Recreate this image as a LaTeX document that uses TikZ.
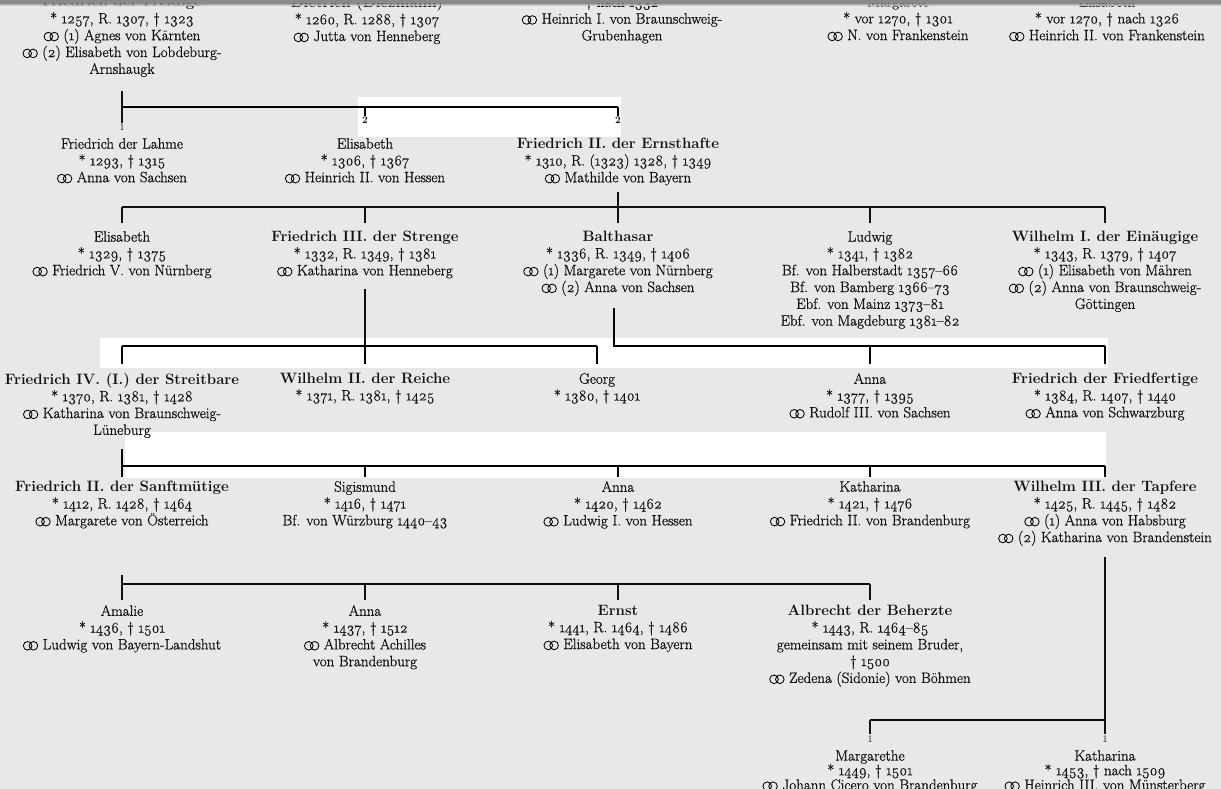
\documentclass[tikz,border=0pt]{standalone}
\usepackage{fontspec}
\setmainfont{Latin Modern Roman}[Numbers=OldStyle,UprightFeatures={FakeBold=0.9}]
\newfontfamily\numfont{Latin Modern Roman}[Numbers=Lining]
\newcommand\mar{\tikz[baseline=-3.6pt,x=1pt,y=1pt]{\draw[line width=0.85pt,draw=black] (0,0) circle (4.3) (5.8,0) circle (4.3);}}
\newcommand\fsz{\fontsize{15}{16.8}\selectfont}
\newcommand\fszb{\fontsize{15}{14.6}\selectfont}
\usetikzlibrary{calc}
\definecolor{ink}{HTML}{111111}
\definecolor{paper}{HTML}{E8E8E8}
\definecolor{band}{HTML}{8A8A8A}
\begin{document}
\begin{tikzpicture}[x=1pt,y=-1pt,
  person/.style={align=center,anchor=north,inner sep=0pt,font=\fsz,text=ink,execute at begin node=\strut},
  personb/.style={person,font=\fszb},
  num/.style={inner sep=0pt,anchor=north,font=\numfont\fontsize{10}{10}\selectfont,text=ink},
  numb/.style={num,font=\numfont\fontsize{10}{10}\selectfont\bfseries},
  link/.style={draw=ink,line width=1.1pt},
  boldlink/.style={draw=black,line width=1.6pt},
  patch/.style={fill=white,draw=none}]
\useasboundingbox (0,0) rectangle (1221,789);
\clip (0,0) rectangle (1221,789);
\fill[paper] (0,0) rectangle (1221,789);
% white scan patches
\fill[patch] (358,97) rectangle (621,137);
\fill[patch] (100,338) rectangle (1108,368);
\fill[patch] (125,432) rectangle (1106,478);
% level coordinates
\coordinate (h0) at (0,107);
\coordinate (h1) at (0,207);
\coordinate (h2) at (0,346);
\coordinate (h3) at (0,466);
\coordinate (h4) at (0,584);
\coordinate (h5) at (0,720);
% ---------- row 0
\node[person] (freidige) at (122,-4) {\textbf{Friedrich der Freidige}\\{}* 1257, R. 1307, † 1323\\\mar{} (1) Agnes von Kärnten\\\mar{} (2) Elisabeth von Lobdeburg-\\Arnshaugk};
\node[person] (dietrich) at (367,-4) {\textbf{Dietrich (Diezmann)}\\{}* 1260, R. 1288, † 1307\\\mar{} Jutta von Henneberg};
\node[person] (agnes) at (622,-4) {† nach 1332\\\mar{} Heinrich I. von Braunschweig-\\Grubenhagen};
\node[person] (frank1) at (898,-4) {Margarete\\{}* vor 1270, † 1301\\\mar{} N. von Frankenstein};
\node[person] (frank2) at (1107,-4) {Elisabeth\\{}* vor 1270, † nach 1326\\\mar{} Heinrich II. von Frankenstein};
% ---------- row 1
\node[num] (n1) at (122,124) {1};
\node[numb] (n2a) at (365,117) {2};
\node[numb] (n2b) at (618,117) {2};
\node[person] (lahme) at (122,138) {Friedrich der Lahme\\{}* 1293, † 1315\\\mar{} Anna von Sachsen};
\node[person] (elis1) at (365,138) {Elisabeth\\{}* 1306, † 1367\\\mar{} Heinrich II. von Hessen};
\node[person] (ernsth) at (618,138) {\textbf{Friedrich II. der Ernsthafte}\\{}* 1310, R. (1323) 1328, † 1349\\\mar{} Mathilde von Bayern};
% ---------- row 2
\node[person] (elis2) at (122,231) {Elisabeth\\{}* 1329, † 1375\\\mar{} Friedrich V. von Nürnberg};
\node[person] (strenge) at (365,231) {\textbf{Friedrich III. der Strenge}\\{}* 1332, R. 1349, † 1381\\\mar{} Katharina von Henneberg};
\node[person] (balth) at (618,231) {\textbf{Balthasar}\\{}* 1336, R. 1349, † 1406\\\mar{} (1) Margarete von Nürnberg\\\mar{} (2) Anna von Sachsen};
\node[person] (ludwig) at (870,231) {Ludwig\\{}* 1341, † 1382\\Bf. von Halberstadt 1357–66\\Bf. von Bamberg 1366–73\\Ebf. von Mainz 1373–81\\Ebf. von Magdeburg 1381–82};
\node[person] (wilh1) at (1105,231) {\textbf{Wilhelm I. der Einäugige}\\{}* 1343, R. 1379, † 1407\\\mar{} (1) Elisabeth von Mähren\\\mar{} (2) Anna von Braunschweig-\\Göttingen};
% ---------- row 3
\node[person] (streitbare) at (122,373) {\textbf{Friedrich IV. (I.) der Streitbare}\\{}* 1370, R. 1381, † 1428\\\mar{} Katharina von Braunschweig-\\Lüneburg};
\node[person] (wilh2) at (365,373) {\textbf{Wilhelm II. der Reiche}\\{}* 1371, R. 1381, † 1425};
\node[person] (georg) at (597,373) {Georg\\{}* 1380, † 1401};
\node[person] (anna3) at (870,373) {Anna\\{}* 1377, † 1395\\\mar{} Rudolf III. von Sachsen};
\node[person] (friedfertige) at (1105,373) {\textbf{Friedrich der Friedfertige}\\{}* 1384, R. 1407, † 1440\\\mar{} Anna von Schwarzburg};
% ---------- row 4
\node[person] (sanft) at (122,481) {\textbf{Friedrich II. der Sanftmütige}\\{}* 1412, R. 1428, † 1464\\\mar{} Margarete von Österreich};
\node[person] (sigis) at (365,481) {Sigismund\\{}* 1416, † 1471\\Bf. von Würzburg 1440–43};
\node[person] (anna4) at (618,481) {Anna\\{}* 1420, † 1462\\\mar{} Ludwig I. von Hessen};
\node[person] (kath4) at (870,481) {Katharina\\{}* 1421, † 1476\\\mar{} Friedrich II. von Brandenburg};
\node[person] (wilh3) at (1105,481) {\textbf{Wilhelm III. der Tapfere}\\{}* 1425, R. 1445, † 1482\\\mar{} (1) Anna von Habsburg\\\mar{} (2) Katharina von Brandenstein};
% ---------- row 5
\node[person] (amalie) at (122,605) {Amalie\\{}* 1436, † 1501\\\mar{} Ludwig von Bayern-Landshut};
\node[person] (anna5) at (365,605) {Anna\\{}* 1437, † 1512\\\mar{} Albrecht Achilles\\von Brandenburg};
\node[person] (ernst) at (618,605) {\textbf{Ernst}\\{}* 1441, R. 1464, † 1486\\\mar{} Elisabeth von Bayern};
\node[person] (albrecht) at (870,605) {\textbf{Albrecht der Beherzte}\\{}* 1443, R. 1464–85\\gemeinsam mit seinem Bruder,\\† 1500\\\mar{} Zedena (Sidonie) von Böhmen};
% ---------- row 6
\node[num] (m1) at (870,736) {1};
\node[num] (m2) at (1105,736) {1};
\node[personb] (margarethe) at (870,750) {Margarethe\\{}* 1449, † 1501\\\mar{} Johann Cicero von Brandenburg};
\node[personb] (kath6) at (1105,750) {Katharina\\{}* 1453, † nach 1509\\\mar{} Heinrich III. von Münsterberg};
% ---------- connectors
% Friedrich der Freidige
\draw[link] ($(freidige.south)+(0,12)$) -- ($(n1.north)+(0,-1)$);
\draw[boldlink] (n1.north |- h0) -- (n2b.north |- h0);
\draw[boldlink] (n2a.north |- h0) -- ($(n2a.north)+(0,-1)$);
\draw[boldlink] (n2b.north |- h0) -- ($(n2b.north)+(0,-1)$);
% Friedrich II. der Ernsthafte
\draw[link] ($(ernsth.south)+(0,4)$) -- (ernsth.south |- h1);
\draw[link] (elis2.north |- h1) -- (wilh1.north |- h1);
\foreach \c in {elis2,strenge,balth,ludwig,wilh1}
  \draw[link] (\c.north |- h1) -- ($(\c.north)+(0,-8)$);
% Friedrich III. der Strenge
\draw[link] ($(strenge.south)+(0,8)$) -- (strenge.south |- h2);
\draw[boldlink] (streitbare.north |- h2) -- (georg.north |- h2);
\foreach \c in {streitbare,wilh2,georg}
  \draw[boldlink] (\c.north |- h2) -- ($(\c.north)+(0,-9)$);
% Balthasar
\coordinate (bt) at ($(balth.south)+(-4,11)$);
\draw[boldlink] (bt) -- (bt |- h2) -- (friedfertige.north |- h2);
\foreach \c in {anna3,friedfertige}
  \draw[boldlink] (\c.north |- h2) -- ($(\c.north)+(0,-9)$);
% Friedrich IV. der Streitbare
\draw[boldlink] ($(streitbare.south)+(0,9)$) -- ($(sanft.north)+(0,-4)$);
\draw[boldlink] (sanft.north |- h3) -- (wilh3.north |- h3);
\foreach \c in {sigis,anna4,kath4,wilh3}
  \draw[boldlink] (\c.north |- h3) -- ($(\c.north)+(0,-4)$);
% Friedrich II. der Sanftmuetige
\draw[link] ($(sanft.south)+(0,44)$) -- ($(amalie.north)+(0,-5)$);
\draw[link] (amalie.north |- h4) -- (albrecht.north |- h4);
\foreach \c in {anna5,ernst,albrecht}
  \draw[link] (\c.north |- h4) -- ($(\c.north)+(0,-5)$);
% Wilhelm III. der Tapfere
\draw[link] ($(wilh3.south)+(0,10)$) -- ($(m2.north)+(0,-2)$);
\draw[link] (m1.north |- h5) -- (m2.north |- h5);
\draw[link] (m1.north |- h5) -- ($(m1.north)+(0,-2)$);
% top scan band
\fill[band] (0,0) rectangle (1221,3.5);
\shade[top color=band,bottom color=paper,opacity=0.8] (0,3.5) rectangle (1221,6);
\end{tikzpicture}
\end{document}
